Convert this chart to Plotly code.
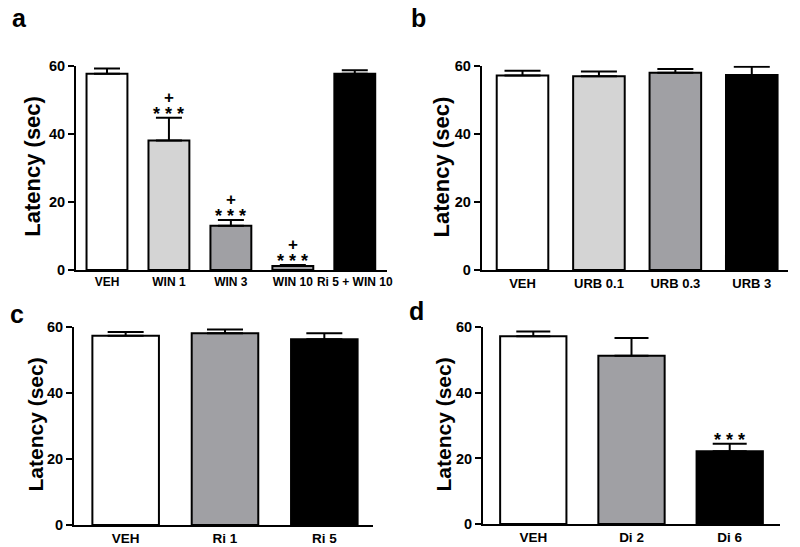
import plotly.graph_objects as go

# ---------------- data ----------------
a_cats = ["VEH", "WIN 1", "WIN 3", "WIN 10", "Ri 5 + WIN 10"]
a_means = [57.6, 38.0, 13.0, 1.2, 57.6]
a_sem = [1.6, 6.7, 1.7, 0.3, 1.1]
a_stars = ["", "***", "***", "***", ""]
a_plus = ["", "+", "+", "+", ""]

b_cats = ["VEH", "URB 0.1", "URB 0.3", "URB 3"]
b_means = [57.1, 56.9, 57.9, 57.3]
b_sem = [1.4, 1.4, 1.1, 2.4]

c_cats = ["VEH", "Ri 1", "Ri 5"]
c_means = [57.4, 58.2, 56.4]
c_sem = [1.2, 1.1, 1.8]

d_cats = ["VEH", "Di 2", "Di 6"]
d_means = [57.3, 51.3, 22.2]
d_sem = [1.4, 5.4, 2.3]
d_stars = ["", "", "***"]

y_ticks = [0, 20, 40, 60]

# ---------------- styles ----------------
WHITE, LIGHT, MID, BLACK = "#ffffff", "#d4d4d4", "#a0a0a4", "#000000"
a_colors = [WHITE, LIGHT, MID, MID, BLACK]
b_colors = [WHITE, LIGHT, MID, BLACK]
c_colors = [WHITE, MID, BLACK]
d_colors = [WHITE, MID, BLACK]

FONT = "Liberation Sans"
OFF = 8  # page body margin in the browser
W, H = 800 - OFF, 547 - OFF


def px_x(p):
    return (p - OFF) / W


def px_y(p):
    return 1 - (p - OFF) / H


panels = [
    ("a", a_cats, a_means, a_sem, a_colors, (76, 387), (270, 65.7), (-0.5, 4.52), 0.66, 13, 14.5, 12),
    ("b", b_cats, b_means, b_sem, b_colors, (481.7, 788), (270, 65.7), (-0.534, 3.474), 0.675, 18, 14.5, 13),
    ("c", c_cats, c_means, c_sem, c_colors, (74, 373), (525, 327.3), (-0.52, 2.49), 0.67, 18, 14.5, 13.5),
    ("d", d_cats, d_means, d_sem, d_colors, (483, 780), (524, 327.3), (-0.512, 2.512), 0.675, 17, 14.5, 13.5),
]

fig = go.Figure()
layout = dict(
    width=W, height=H, margin=dict(l=0, r=0, t=0, b=0, pad=0, autoexpand=False),
    paper_bgcolor="white", plot_bgcolor="white", showlegend=False,
    font=dict(family=FONT, color="black"),
)

for i, (name, cats, means, sem, colors, xd, yd, xr, bw, cap, tfs, cfs) in enumerate(panels):
    idx = "" if i == 0 else str(i + 1)
    fig.add_trace(go.Bar(
        x=cats, y=means, width=bw,
        marker=dict(color=colors, line=dict(color="black", width=2)),
        error_y=dict(type="data", symmetric=False, array=sem, arrayminus=[0] * len(sem),
                     color="black", thickness=2, width=cap),
        xaxis="x" + idx, yaxis="y" + idx, cliponaxis=False,
    ))
    layout["xaxis" + idx] = dict(
        domain=[px_x(xd[0]), px_x(xd[1])], anchor="y" + idx, type="category",
        range=list(xr), showline=True, linecolor="black", linewidth=2,
        ticks="", showgrid=False, zeroline=False, fixedrange=True,
        tickangle=0, automargin=False,
        tickfont=dict(family=FONT, size=cfs, weight="bold", color="black"),
    )
    layout["yaxis" + idx] = dict(
        domain=[px_y(yd[0]), px_y(yd[1])], anchor="x" + idx, range=[0, 60],
        tickvals=y_ticks, showline=True, linecolor="black", linewidth=2,
        ticks="outside", ticklen=6, tickwidth=2, tickcolor="black",
        showgrid=False, zeroline=False, fixedrange=True, automargin=False,
        tickfont=dict(family=FONT, size=tfs, weight="bold", color="black"),
    )

annotations = []
# y-axis titles
for (cx, cy, sz) in [(33, 166.7, 22), (441.7, 166.7, 22), (35, 424.5, 21), (442.5, 425, 21)]:
    annotations.append(dict(
        x=px_x(cx), y=px_y(cy), xref="paper", yref="paper", text="Latency (sec)",
        textangle=-90, showarrow=False, xanchor="center", yanchor="middle",
        font=dict(family=FONT, size=sz, weight="bold", color="black"),
    ))
# panel letters
for (lab, cx, cy) in [("a", 19, 18.5), ("b", 418.5, 17.5), ("c", 16.5, 313.5), ("d", 416.5, 311)]:
    annotations.append(dict(
        x=px_x(cx), y=px_y(cy), xref="paper", yref="paper", text=lab,
        showarrow=False, xanchor="center", yanchor="middle",
        font=dict(family=FONT, size=25, weight="bold", color="black"),
    ))

# significance marks
def add_marks(cats, means, sem, stars, pluses, xref, yref):
    for c, m, s, st, pl in zip(cats, means, sem, stars, pluses):
        top = m + s
        if st:
            annotations.append(dict(
                x=c, y=top, xref=xref, yref=yref, text="* * *", showarrow=False,
                xanchor="center", yanchor="bottom", yshift=-8,
                font=dict(family=FONT, size=18, weight="bold", color="black"),
            ))
        if pl:
            annotations.append(dict(
                x=c, y=top, xref=xref, yref=yref, text="+", showarrow=False,
                xanchor="center", yanchor="bottom", yshift=9,
                font=dict(family=FONT, size=17, weight="bold", color="black"),
            ))

add_marks(a_cats, a_means, a_sem, a_stars, a_plus, "x", "y")
add_marks(d_cats, d_means, d_sem, d_stars, [""] * len(d_cats), "x4", "y4")

layout["annotations"] = annotations
fig.update_layout(**layout)
fig.write_html("out.html")
